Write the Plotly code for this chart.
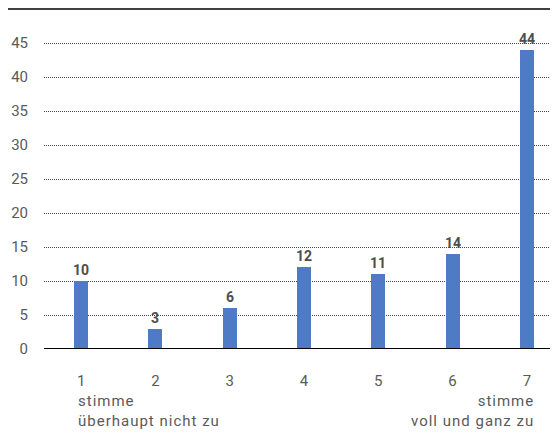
import plotly.graph_objects as go

categories = [1, 2, 3, 4, 5, 6, 7]
tick_labels = ["1", "2", "3", "4", "5", "6", "7"]
values = [10, 3, 6, 12, 11, 14, 44]
y_ticks = [0, 5, 10, 15, 20, 25, 30, 35, 40, 45]
low_label = "stimme<br>überhaupt nicht zu"
high_label = "stimme<br>voll und ganz zu"

bar_color = "#4f7bc6"
grey = "#5a5a5a"


def spaced(txt):
    return "<br>".join(f'<span style="letter-spacing:1px">{p}</span>' for p in txt.split("<br>"))


fig = go.Figure()
fig.add_trace(go.Bar(
    x=categories, y=values, width=0.19,
    marker=dict(color=bar_color, line=dict(width=0)),
    text=[str(v) for v in values], textposition="outside",
    constraintext="none",
    textfont=dict(family="Roboto", size=14, color="#4d4d4d", weight="bold"),
    cliponaxis=False,
))

fig.update_layout(
    width=558, height=446,
    margin=dict(l=36, r=2, t=1, b=105, autoexpand=False),
    paper_bgcolor="white", plot_bgcolor="white",
    showlegend=False,
    font=dict(family="Roboto", color=grey),
    xaxis=dict(
        range=[0.5, 7.5], tickmode="array", tickvals=categories, ticktext=tick_labels,
        showgrid=False, zeroline=False, showline=False,
        ticks="outside", ticklen=18, tickcolor="rgba(0,0,0,0)",
        tickfont=dict(size=15, color=grey, family="Roboto"),
    ),
    yaxis=dict(
        range=[0, 50], tickmode="array", tickvals=y_ticks,
        showgrid=True, gridcolor="#444444", griddash="1px,1px", gridwidth=1,
        zeroline=False, showline=False,
        ticks="outside", ticklen=12, tickcolor="rgba(0,0,0,0)",
        tickfont=dict(size=15, color=grey, family="Roboto"),
    ),
    bargap=0,
)

# zero baseline
fig.add_shape(type="line", xref="paper", yref="y", x0=0, x1=1, y0=0, y1=0,
              line=dict(color="black", width=2))
# top rule
fig.add_shape(type="line", xref="paper", yref="paper", x0=-0.07, x1=1, y0=1, y1=1,
              line=dict(color="black", width=1.5))

fig.add_annotation(x=1, xref="x", y=-0.12, yref="paper", xshift=-5,
                   text=spaced(low_label), showarrow=False,
                   xanchor="left", yanchor="top", align="left",
                   font=dict(size=15, color=grey, family="Roboto"))
fig.add_annotation(x=7, xref="x", y=-0.12, yref="paper", xshift=9,
                   text=spaced(high_label), showarrow=False,
                   xanchor="right", yanchor="top", align="right",
                   font=dict(size=15, color=grey, family="Roboto"))

fig.write_html("out.html")
